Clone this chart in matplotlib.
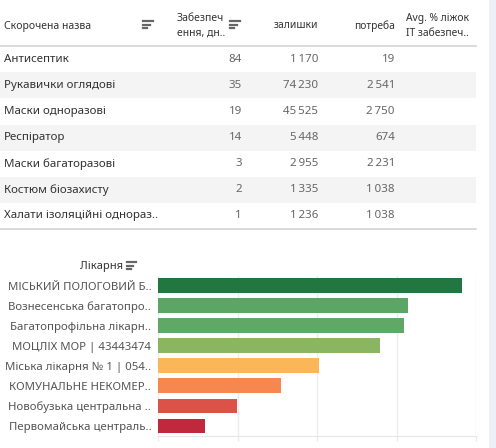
import matplotlib.pyplot as plt
from matplotlib.patches import Rectangle
from matplotlib.lines import Line2D

plt.rcParams['font.family'] = ['Noto Sans', 'DejaVu Sans']

# table data
items = ['Антисептик', 'Рукавички оглядові', 'Маски одноразові', 'Респіратор',
         'Маски багаторазові', 'Костюм біозахисту', 'Халати ізоляційні однораз..']
days = [84, 35, 19, 14, 3, 2, 1]
stock = [1170, 74230, 45525, 5448, 2955, 1335, 1236]
need = [19, 2541, 2750, 674, 2231, 1038, 1038]

# bar chart data
hospitals = ['МІСЬКИЙ ПОЛОГОВИЙ Б..', 'Вознесенська багатопро..', 'Багатопрофільна лікарн..',
             'МОЦЛІХ МОР | 43443474', 'Міська лікарня № 1 | 054..', 'КОМУНАЛЬНЕ НЕКОМЕР..',
             'Новобузька центральна ..', 'Первомайська централь..']
coverage = [76.4, 62.8, 61.8, 55.8, 40.4, 30.9, 19.8, 11.7]
bar_colors = ['#21773f', '#5ba565', '#60a865', '#8bb661', '#fbb657', '#f5874f', '#db5248', '#c0293d']


def fmt(v):
    return f'{v:,}'.replace(',', '\u2009')


fig = plt.figure(figsize=(4.96, 4.48), dpi=100)

# canvas in pixel coords for table
bg = fig.add_axes([0, 0, 1, 1])
bg.set_xlim(0, 496)
bg.set_ylim(448, 0)
bg.axis('off')

bg.add_patch(Rectangle((489, 0), 7, 448, color='#eef0f5', lw=0))


def sort_icon(x, y, w=10):
    for i, f in enumerate([1.0, 0.7, 0.4]):
        bg.add_line(Line2D([x, x + w * f], [y + i * 3.6, y + i * 3.6], color='#666666', lw=1.6))


txt = '#333333'
num = '#666666'
bg.text(4, 26, 'Скорочена назва', fontsize=7.5, color=txt, va='center')
sort_icon(143, 21)
bg.text(177, 26, 'Забезпеч\nення, дн..', fontsize=7.5, color=txt, va='center', linespacing=1.45)
sort_icon(230, 21)
bg.text(318, 26, 'залишки', fontsize=7.4, color=txt, va='center', ha='right')
bg.text(395, 26, 'потреба', fontsize=7.4, color=txt, va='center', ha='right')
bg.text(406, 26, 'Avg. % ліжок\nIT забезпеч..', fontsize=7.4, color=txt, va='center', linespacing=1.45)

row_h = 26.1
top = 46.3
for i in range(len(items)):
    y0 = top + i * row_h
    if i % 2 == 1:
        bg.add_patch(Rectangle((0, y0), 476, row_h, color='#f4f4f4', lw=0))
    yc = y0 + row_h / 2
    bg.text(4, yc, items[i], fontsize=8.3, color=txt, va='center')
    bg.text(242, yc, str(days[i]), fontsize=8.3, color=num, va='center', ha='right')
    bg.text(318, yc, fmt(stock[i]), fontsize=8.3, color=num, va='center', ha='right')
    bg.text(395, yc, fmt(need[i]), fontsize=8.3, color=num, va='center', ha='right')

bg.add_line(Line2D([0, 476], [top, top], color='#d4d4d4', lw=1.2))
bg.add_line(Line2D([0, 476], [top + 7 * row_h, top + 7 * row_h], color='#d4d4d4', lw=1.2))

bg.text(123, 267, 'Лікарня', fontsize=8, color=txt, va='center', ha='right')
sort_icon(127, 262, 9)

# bar chart
ax = fig.add_axes([158.3 / 496, 1 - 436 / 448, 318 / 496, 160.3 / 448])
ypos = list(range(len(hospitals)))
ax.barh(ypos, coverage, height=0.74, color=bar_colors, zorder=3)
ax.set_xlim(0, 80)
ax.set_ylim(len(hospitals) - 0.5, -0.5)
ax.set_xticks([0, 20, 40, 60, 80])
ax.set_xticklabels([])
ax.xaxis.grid(True, color='#ececec', lw=1)
ax.tick_params(axis='x', length=3.4, color='#ececec', width=1)
ax.set_yticks(ypos)
ax.set_yticklabels(hospitals, fontsize=8.2, color='#555555')
ax.tick_params(axis='y', length=0, pad=5)
for s in ['top', 'right', 'left']:
    ax.spines[s].set_visible(False)
ax.spines['bottom'].set_color('#e6e6e6')

fig.savefig('out.png', dpi=100)
